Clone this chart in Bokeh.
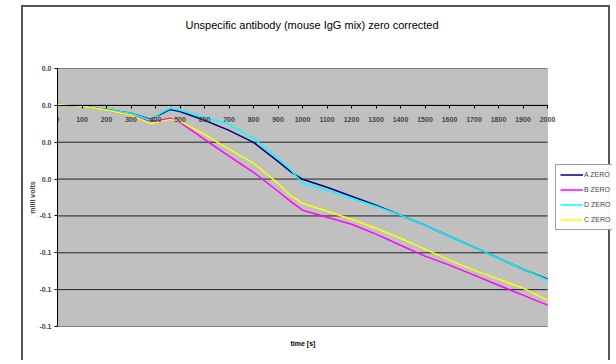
from bokeh.plotting import figure
from bokeh.models import (FixedTicker, Legend, LegendItem, BoxAnnotation, Title)
from bokeh.embed import file_html
from bokeh.resources import INLINE

# ---- data (time in s, signal in milli volts) ----
time_s = [0, 100, 200, 300, 380, 420, 460, 500, 600, 700, 800, 900, 950, 1000,
          1100, 1200, 1300, 1400, 1500, 1600, 1700, 1800, 1900, 2000]
a_zero = [0.0005, -0.0005, -0.0022, -0.0043, -0.0076, -0.0049, -0.0022, -0.0033,
          -0.0081, -0.0136, -0.0201, -0.0304, -0.0358, -0.0401, -0.0444, -0.0493,
          -0.0542, -0.0596, -0.0650, -0.0710, -0.0769, -0.0829, -0.0889, -0.0943]
b_zero = [0.0005, -0.0005, -0.0027, -0.0054, -0.0087, -0.0081, -0.0070, -0.0092,
          -0.0184, -0.0276, -0.0363, -0.0466, -0.0520, -0.0569, -0.0607, -0.0645,
          -0.0699, -0.0759, -0.0818, -0.0867, -0.0921, -0.0976, -0.1030, -0.1084]
d_zero = [0.0005, -0.0005, -0.0022, -0.0043, -0.0081, -0.0043, -0.0016, -0.0027,
          -0.0065, -0.0103, -0.0179, -0.0287, -0.0347, -0.0423, -0.0461, -0.0504,
          -0.0547, -0.0596, -0.0650, -0.0710, -0.0769, -0.0829, -0.0889, -0.0948]
c_zero = [0.0005, -0.0005, -0.0027, -0.0054, -0.0098, -0.0087, -0.0076, -0.0087,
          -0.0157, -0.0238, -0.0314, -0.0423, -0.0488, -0.0531, -0.0575, -0.0618,
          -0.0667, -0.0721, -0.0780, -0.0840, -0.0894, -0.0943, -0.0992, -0.1057]

series_names = ["A ZERO", "B ZERO", "D ZERO", "C ZERO"]
series_values = [a_zero, b_zero, d_zero, c_zero]
series_colors = ["#000080", "#FF00FF", "#00FFFF", "#FFFF00"]

x_ticks = list(range(0, 2001, 100))
x_tick_labels = [str(t) for t in x_ticks]
y_ticks = [0.02, 0.0, -0.02, -0.04, -0.06, -0.08, -0.10, -0.12]
y_tick_labels = ["0.0", "0.0", "0.0", "0.0", "-0.1", "-0.1", "-0.1", "-0.1"]

chart_title = "Unspecific antibody (mouse IgG mix)  zero corrected"
x_title = "time [s]"
y_title = "milli volts"

FONT = "Liberation Sans"

X_MIN, X_MAX = x_ticks[0], x_ticks[-1]
Y_MIN, Y_MAX = y_ticks[-1], y_ticks[0]
# frame extends to the right to host the legend (plot area ends at X_MAX)
X_VIEW_MAX = X_MAX * 555 / 490

p = figure(width=589, height=355, output_backend="svg", toolbar_location=None,
           x_range=(X_MIN, X_VIEW_MAX), y_range=(Y_MIN, Y_MAX),
           min_border_left=34, min_border_right=0, min_border_top=61,
           min_border_bottom=36,
           styles={"margin-left": "21px", "margin-top": "5px",
                   "border-left": "2px solid #555555",
                   "border-top": "2px solid #555555",
                   "border-right": "2px solid #555555"})

p.background_fill_color = "white"
p.border_fill_color = "white"
p.outline_line_color = None

# spacer (nearest the plot) then the chart title above it
spacer = Title(text=" ", text_font_size="1px", standoff=35)
p.add_layout(spacer, "above")
main_title = Title(text=chart_title, align="left", offset=128, standoff=0,
                   vertical_align="bottom", text_font=FONT,
                   text_font_size="11px", text_font_style="normal",
                   text_color="#000000")
p.add_layout(main_title, "above")

# grey plot area
area = BoxAnnotation(left=X_MIN, right=X_MAX, bottom=Y_MIN, top=Y_MAX,
                     fill_color="#C0C0C0", fill_alpha=1.0,
                     line_color="#808080", line_width=1, level="underlay")
p.add_layout(area)

# horizontal gridlines limited to the plot area
p.xgrid.visible = False
p.ygrid.visible = False
p.segment(x0=[X_MIN] * len(y_ticks), x1=[X_MAX] * len(y_ticks),
          y0=y_ticks, y1=y_ticks, line_color="#202020", line_width=1)

# x axis crossing at zero
xa = p.xaxis[0]
xa.fixed_location = 0
xa.bounds = (X_MIN, X_MAX)
xa.ticker = FixedTicker(ticks=x_ticks)
xa.major_label_overrides = {t: l for t, l in zip(x_ticks, x_tick_labels)}
xa.major_tick_out = 3
xa.major_tick_in = 0
xa.minor_tick_line_color = None
xa.axis_line_color = "black"
xa.major_tick_line_color = "black"
xa.major_label_standoff = 9
xa.major_label_text_font = FONT
xa.major_label_text_font_size = "7px"
xa.major_label_text_font_style = "bold"

# x axis title below the plot area
xtitle = Title(text=x_title, align="left", offset=233, vertical_align="top",
               standoff=26, text_font=FONT, text_font_size="7px",
               text_font_style="bold", text_color="#000000")
p.add_layout(xtitle, "below")

# y axis
ya = p.yaxis[0]
ya.ticker = FixedTicker(ticks=y_ticks)
ya.major_label_overrides = {t: l for t, l in zip(y_ticks, y_tick_labels)}
ya.major_tick_out = 3
ya.major_tick_in = 0
ya.minor_tick_line_color = None
ya.axis_line_color = "black"
ya.major_tick_line_color = "black"
ya.major_label_standoff = 3
ya.major_label_text_font = FONT
ya.major_label_text_font_size = "7px"
ya.major_label_text_font_style = "bold"
ya.axis_label = y_title
ya.axis_label_text_font = FONT
ya.axis_label_text_font_size = "7px"
ya.axis_label_text_font_style = "bold"
ya.axis_label_standoff = 0

items = []
for name, vals, col in zip(series_names, series_values, series_colors):
    r = p.line(time_s, vals, line_color=col, line_width=1.5)
    items.append(LegendItem(label=name, renderers=[r]))

legend = Legend(items=items, location=(498, 96))
legend.margin = 0
legend.padding = 4
legend.spacing = 4
legend.glyph_width = 23
legend.glyph_height = 11
legend.label_height = 11
legend.label_standoff = 1
legend.label_text_font = FONT
legend.label_text_font_size = "7px"
legend.border_line_color = "#404040"
legend.border_line_width = 1
legend.background_fill_color = "white"
p.add_layout(legend)

open("out.html", "w").write(file_html(p, INLINE))
